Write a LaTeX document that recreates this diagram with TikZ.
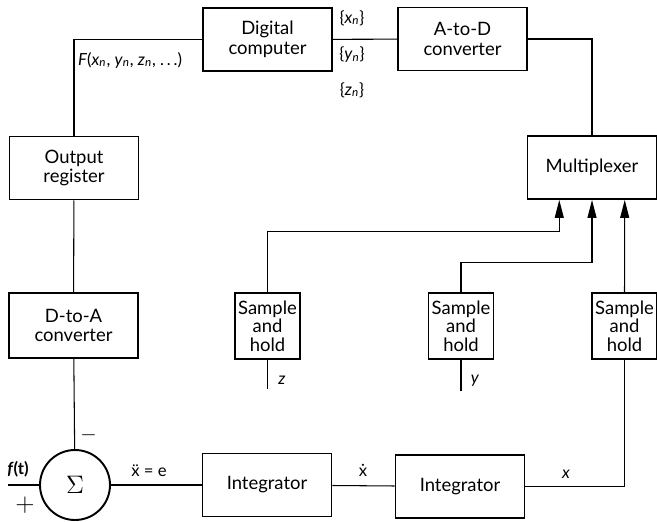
\documentclass[tikz,border=0pt]{standalone}
\usepackage{amsmath}
\usepackage{fontspec}
\setmainfont{Lato}
\usetikzlibrary{arrows.meta,positioning,calc}
\newcommand{\vsub}[2]{\textit{#1}\textsubscript{\textit{#2}}}

\begin{document}
\begin{tikzpicture}[
    block/.style={draw, line width=1.1pt, minimum width=2.58cm, minimum height=1.26cm, align=center, inner sep=1pt, font=\fontsize{10.5}{11.2}\selectfont},
    shbox/.style={block, minimum width=1.3cm, minimum height=1.32cm, font=\fontsize{10.5}{10.4}\selectfont},
    lbl/.style={inner sep=1pt, font=\fontsize{9.5}{11}\selectfont},
    wire/.style={line width=0.6pt},
    feed/.style={wire, -{Triangle[length=3.6mm,width=1.8mm]}}
]
    \useasboundingbox (0,0) rectangle (13.14,10.42);

    % Digital side (top row and left column)
    \node[block] (comp) at (5.35,9.63) {Digital\\computer};
    \node[block] (adc) at (9.25,9.64) {A-to-D\\converter};
    \node[block] (mux) at (11.84,7.07) {Multiplexer};
    \node[block] (outreg) at (1.48,7.06) {Output\\register};
    \node[block, minimum height=1.3cm] (dac) at (1.47,3.91) {D-to-A\\converter};

    \draw[wire] (comp) -- (adc);
    \draw[wire] (adc.east) -| (mux.north);
    \draw[wire] (outreg.north) |- (comp.west);
    \draw[wire] (outreg) -- (dac);
    \node[lbl, anchor=west] (fout) at (1.52,9.22) {\textit{F}(\vsub{x}{n}, \vsub{y}{n}, \vsub{z}{n}, .\,.\,.)};
    \node[lbl] (xn) at (7.04,10.06) {\{\vsub{x}{n}\}};
    \node[lbl] (yn) at (7.04,9.32) {\{\vsub{y}{n}\}};
    \node[lbl] (zn) at (7.04,8.62) {\{\vsub{z}{n}\}};

    % Analogue side: summer and integrators
    \node[circle, draw, line width=1.1pt, minimum size=1.4cm, inner sep=0pt] (sum) at (1.5,0.72) {\Large$\Sigma$};
    \node[block] (int1) at (5.34,0.72) {Integrator};
    \node[block] (int2) at (9.2,0.69) {Integrator};
    \coordinate (fin) at (0.16,0.72);

    \draw[wire] (dac) -- (sum);
    \draw[wire] (fin) -- (sum);
    \draw[wire] (sum) -- (int1);
    \draw[wire] (int1) -- (int2);
    \node[lbl] (ft) at (0.36,1.04) {\textbf{\textit{f}(t)}};
    \node[lbl, font=\Large] (plus) at (0.5,0.32) {$+$};
    \node[lbl, font=\large] (minus) at (1.77,1.72) {$-$};
    \node[lbl, anchor=south] (xdd) at (2.98,0.84) {ẍ = e};
    \node[lbl, anchor=south] (xd) at (7.26,0.84) {ẋ};
    \node[lbl, anchor=south] (xv) at (11.32,0.8) {\textit{x}};

    % Sample and hold stages into the multiplexer
    \node[shbox] (shz) at (5.35,3.9) {Sample\\and\\hold};
    \node[shbox] (shy) at (9.22,3.9) {Sample\\and\\hold};
    \node[shbox] (shx) at (12.49,3.9) {Sample\\and\\hold};
    \coordinate (muxz) at ($(mux.south west)!0.25!(mux.south east)$);
    \coordinate (muxy) at (mux.south);
    \coordinate (muxx) at ($(mux.south west)!0.75!(mux.south east)$);
    \coordinate[below=0.58cm of shz.south] (zsig);
    \coordinate[below=0.62cm of shy.south] (ysig);

    \draw[feed] (shz.north) -- ++(0,1.22) -| (muxz);
    \draw[feed] (shy.north) -- ++(0,0.6) -| (muxy);
    \draw[feed] (shx.north) -- (muxx);
    \draw[wire] (int2.east) -| (shx.south);
    \draw[wire] (shz.south) -- (zsig);
    \draw[wire] (shy.south) -- (ysig);
    \node[lbl] (zl) at (5.64,2.82) {\textit{z}};
    \node[lbl] (yl) at (9.5,2.8) {\textit{y}};
\end{tikzpicture}
\end{document}
